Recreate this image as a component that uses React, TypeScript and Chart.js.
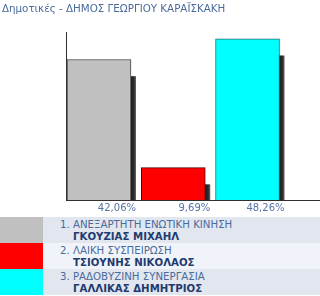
import React, { useEffect, useRef } from "react";
import { Chart, registerables } from "chart.js";

Chart.register(...registerables);

const TITLE = "Δημοτικές - ΔΗΜΟΣ ΓΕΩΡΓΙΟΥ ΚΑΡΑΪΣΚΑΚΗ";
const parties = [
  "1. ΑΝΕΞΑΡΤΗΤΗ ΕΝΩΤΙΚΗ ΚΙΝΗΣΗ",
  "2. ΛΑΙΚΗ ΣΥΣΠΕΙΡΩΣΗ",
  "3. ΡΑΔΟΒΥΖΙΝΗ ΣΥΝΕΡΓΑΣΙΑ",
];
const candidates = ["ΓΚΟΥΖΙΑΣ ΜΙΧΑΗΛ", "ΤΣΙΟΥΝΗΣ ΝΙΚΟΛΑΟΣ", "ΓΑΛΛΙΚΑΣ ΔΗΜΗΤΡΙΟΣ"];
const percents = [42.06, 9.69, 48.26];
const percentLabels = ["42,06%", "9,69%", "48,26%"];
const barColors = ["#c0c0c0", "#ff0000", "#00ffff"];
const barBorders = ["#404040", "#5a0000", "#2f6f6f"];
const rowBackgrounds = ["#e1e6ef", "#f0f4fa", "#e1e6ef"];

const FONT = "'DejaVu Sans', Verdana, sans-serif";

const shadowPlugin = {
  id: "barShadow",
  beforeDatasetsDraw(chart: any) {
    const ctx = chart.ctx;
    const meta = chart.getDatasetMeta(0);
    ctx.save();
    meta.data.forEach((el: any) => {
      const { x, y, base, width } = el.getProps(["x", "y", "base", "width"], true);
      const left = x - width / 2 + 5;
      const right = x + width / 2 + 5;
      const top = y + 16.7;
      const g = ctx.createLinearGradient(right - 5, 0, right, 0);
      g.addColorStop(0, "#1c1c1c");
      g.addColorStop(0.6, "#2c2c2c");
      g.addColorStop(1, "#6a6a6a");
      ctx.fillStyle = g;
      if (base > top) ctx.fillRect(left, top, right - left, base - top);
    });
    ctx.restore();
  },
};

const labelPlugin = {
  id: "barValueLabels",
  afterDraw(chart: any) {
    const ctx = chart.ctx;
    const meta = chart.getDatasetMeta(0);
    ctx.save();
    ctx.font = `10px ${FONT}`;
    ctx.fillStyle = "#5573a6";
    ctx.textAlign = "right";
    ctx.textBaseline = "middle";
    meta.data.forEach((el: any, i: number) => {
      const { x, width } = el.getProps(["x", "width"], true);
      ctx.fillText(percentLabels[i], x + width / 2 + 5, chart.chartArea.bottom + 8);
    });
    ctx.restore();
  },
};

function BarChart() {
  const ref = useRef<HTMLCanvasElement>(null);
  useEffect(() => {
    if (!ref.current) return;
    const chart = new Chart(ref.current, {
      type: "bar",
      data: {
        datasets: [
          {
            data: percents.map((v, i) => ({ x: i, y: v })),
            backgroundColor: barColors,
            borderColor: barBorders,
            borderWidth: 1,
            barThickness: 64,
          },
        ],
      },
      options: {
        animation: false,
        responsive: false,
        devicePixelRatio: 1,
        layout: { padding: { left: 2, right: 0, top: 0, bottom: 0 } },
        plugins: {
          legend: { display: false },
          tooltip: { enabled: false },
          title: {
            display: true,
            text: TITLE,
            align: "start",
            color: "#4a6b9c",
            font: { family: FONT, size: 10.3, weight: "normal", lineHeight: 1.2 },
            padding: { top: 3, bottom: 17.6 },
          },
        },
        scales: {
          x: {
            type: "linear",
            offset: false,
            min: -0.4444,
            max: 2.976,
            ticks: { display: false },
            grid: { display: false },
            border: { display: true, color: "#303030", width: 1 },
            afterFit: (s: any) => {
              s.height = 17;
            },
          },
          y: {
            min: 0,
            max: 50,
            ticks: { display: false },
            grid: { display: false },
            border: { display: true, color: "#303030", width: 1 },
            afterFit: (s: any) => {
              s.width = 64;
            },
          },
        },
      },
      plugins: [shadowPlugin, labelPlugin],
    } as any);
    return () => chart.destroy();
  }, []);
  return <canvas ref={ref} width={320} height={217} style={{ display: "block" }} />;
}

export default function App() {
  return (
    <div style={{ position: "absolute", left: 0, top: 0, width: 320, height: 296, background: "#fff" }}>
      <BarChart />
      <div>
        {parties.map((p, i) => (
          <div key={p} style={{ display: "flex", height: 26 }}>
            <div style={{ width: 43, height: 26, background: barColors[i] }} />
            <div
              style={{
                flex: 1,
                height: 26,
                background: rowBackgrounds[i],
                boxSizing: "border-box",
                paddingLeft: 17,
                paddingTop: 2,
                fontFamily: FONT,
                fontSize: 10.2,
                lineHeight: "11.7px",
              }}
            >
              <div style={{ color: "#4a6b9c", whiteSpace: "nowrap" }}>{p}</div>
              <div style={{ color: "#1f3b6e", fontWeight: "bold", paddingLeft: 13, whiteSpace: "nowrap" }}>
                {candidates[i]}
              </div>
            </div>
          </div>
        ))}
      </div>
    </div>
  );
}
